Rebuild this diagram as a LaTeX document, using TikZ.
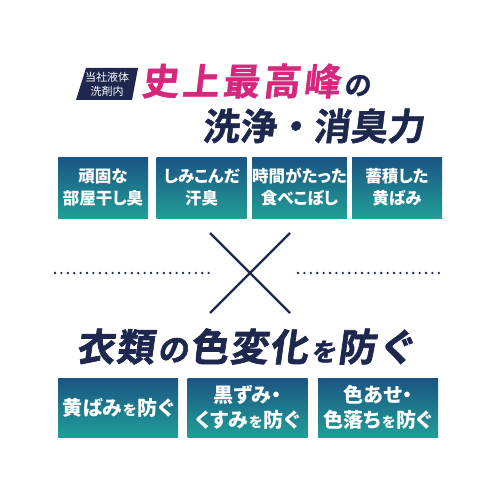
\documentclass[tikz,border=0pt]{standalone}
\usepackage{fontspec}
\setmainfont[RawFeature=+palt]{Noto Sans CJK JP}
\newfontfamily\jpslant[FakeSlant=0.12,FakeBold=1.2]{Noto Sans CJK JP Bold}
\newfontfamily\jpwide[FakeSlant=0.14,FakeBold=1.8,LetterSpace=5]{Noto Sans CJK JP Bold}
\usetikzlibrary{positioning}
\definecolor{navy}{RGB}{30,40,78}
\definecolor{pinktitle}{RGB}{214,39,124}
\definecolor{boxtop}{RGB}{27,84,132}
\definecolor{boxbot}{RGB}{32,158,150}
\tikzset{
  smellbox/.style={minimum width=90pt, minimum height=61pt, inner sep=0pt,
    top color=boxtop, bottom color=boxbot, text=white, align=center,
    font=\bfseries\fontsize{16.5}{22}\selectfont},
  colorbox/.style={minimum width=120pt, minimum height=59pt, inner sep=0pt,
    top color=boxtop, bottom color=boxbot, text=white, align=center,
    font=\bfseries\fontsize{20}{25}\selectfont},
  headpart/.style={inner sep=0pt, text=navy, anchor=base west},
  dotline/.style={navy, line width=2.6pt, line cap=round, dash pattern=on 0pt off 6.4pt},
}
\newcommand{\smallwo}{\kern1pt{\fontsize{14}{14}\selectfont を}\kern1pt}
\begin{document}
\begin{tikzpicture}[x=1pt, y=-1pt]
	%%%%% START %%%%%
	\useasboundingbox[fill=white] (0,0) rectangle (500,500);
	
	% badge and title
	\fill[navy] (86,68) -- (138,68) -- (132,100) -- (76,100) -- cycle;
	\node[text=white, align=center, font=\fontsize{11}{14}\selectfont] (badge) at (107,84) {当社液体\\洗剤内};
	\node[anchor=west, inner sep=0pt, text=pinktitle, font=\jpslant\fontsize{37}{37}\selectfont] (top) at (141,81) {史\kern3.5pt 上\kern3.5pt 最\kern3.5pt 高\kern3.5pt 峰};
	\node[headpart, font=\jpslant\fontsize{27}{27}\selectfont] (no) at ([xshift=3pt]top.base east) {の};
	\node[inner sep=0pt, text=navy, font=\jpslant\fontsize{37}{37}\selectfont] (power) at (313,126) {洗浄・消臭力};
	
	% four smell boxes
	\node[smellbox] (s1) at (103,187.5) {頑固な\\部屋干し臭};
	\node[smellbox] (s2) at (201.5,187.5) {しみこんだ\\汗臭};
	\node[smellbox] (s3) at (299.5,187.5) {時間がたった\\食べこぼし};
	\node[smellbox] (s4) at (397,187.5) {蓄積した\\黄ばみ};
	
	% cross and dots
	\draw[navy, line width=2.4pt] (210,233) -- (290,313);
	\draw[navy, line width=2.4pt] (290,233) -- (210,313);
	\draw[dotline] (55,273) -- (212,273);
	\draw[dotline] (298,273) -- (445,273);
	
	% second heading
	\node[headpart, font=\jpwide\fontsize{38}{38}\selectfont] (h1) at (76,361) {衣類};
	\node[headpart, font=\jpwide\fontsize{31}{31}\selectfont] (h2) at ([xshift=3pt]h1.base east) {の};
	\node[headpart, font=\jpwide\fontsize{38}{38}\selectfont] (h3) at ([xshift=1pt]h2.base east) {色変化};
	\node[headpart, font=\jpwide\fontsize{25}{25}\selectfont] (h4) at ([xshift=3pt]h3.base east) {を};
	\node[headpart, font=\jpwide\fontsize{38}{38}\selectfont] (h5) at ([xshift=1pt]h4.base east) {防ぐ};
	
	% three colour boxes
	\node[colorbox] (k1) at (118,407.5) {黄ばみ\smallwo 防ぐ};
	\node[colorbox] (k2) at (247.5,407.5) {黒ずみ・\\くすみ\smallwo 防ぐ};
	\node[colorbox] (k3) at (378,407.5) {色あせ・\\色落ち\smallwo 防ぐ};
	
	%%%%% END %%%%%
\end{tikzpicture}
\end{document}
